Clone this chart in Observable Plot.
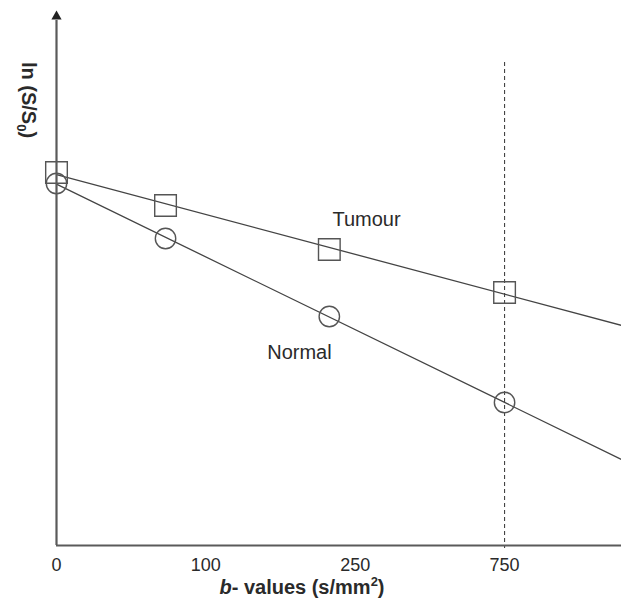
<!DOCTYPE html>
<html><head><meta charset="utf-8">
<script src="https://cdn.jsdelivr.net/npm/d3@7"></script>
<script src="https://cdn.jsdelivr.net/npm/@observablehq/plot@0.6"></script>
<style>body{margin:0;background:#fff} svg{display:block}</style>
</head><body><div id="chart"></div>
<script>
// b-values of the measured points (s/mm²), schematic axis
const bValues = [0, 73, 224, 750];
// ln(S/S0), arbitrary units
const tumour = [0, -0.33, -0.77, -1.20];
const normal = [-0.11, -0.66, -1.44, -2.30];
// axis tick labels (equally spaced on the drawn axis)
const tickValues = [0, 100, 250, 750];
const tickLabels = ["0", "100", "250", "750"];
// series label anchors
const seriesNames = ["Tumour", "Normal"];
const labelB = [288, 194];
const labelY = [-0.47, -1.80];
// reference line
const refB = [750];

const W = 621, H = 608, mL = 56, mR = 0, mT = 10, mB = 63;
const pos = d3.scaleLinear().domain(tickValues).range(tickValues.map((d, i) => i)); // piecewise axis
const xMax = 3.783;
const yDom = [-3.73, 1.62];
const ink = "#444";

function fitLine(ys) {
  const xs = bValues.map(pos);
  const mx = d3.mean(xs), my = d3.mean(ys);
  const sxy = d3.sum(xs, (x, i) => (x - mx) * (ys[i] - my));
  const sxx = d3.sum(xs, x => (x - mx) ** 2);
  const k = sxy / sxx, c = my - k * mx;
  return [0, xMax].map(x => ({x, y: c + k * x}));
}
const pts = (ys) => bValues.map((b, i) => ({x: pos(b), y: ys[i]}));
const labels = seriesNames.map((n, i) => ({name: n, x: pos(labelB[i]), y: labelY[i]}));

const chart = Plot.plot({
  width: W, height: H, marginLeft: mL, marginRight: mR, marginTop: mT, marginBottom: mB,
  style: {fontFamily: "'Liberation Sans', Arial, sans-serif", fontSize: "18px", color: "#2a2a2a", background: "#fff"},
  x: {domain: [0, xMax], axis: null},
  y: {domain: yDom, axis: null},
  marks: [
    Plot.ruleX(refB.map(pos), {y1: 1.10, y2: yDom[0] - 0.03, stroke: ink, strokeWidth: 1.1, strokeDasharray: "4,3"}),
    Plot.line(fitLine(tumour), {x: "x", y: "y", stroke: ink, strokeWidth: 1.3}),
    Plot.line(fitLine(normal), {x: "x", y: "y", stroke: ink, strokeWidth: 1.3}),
    Plot.dot(pts(tumour), {x: "x", y: "y", symbol: "square", r: 12.2, stroke: "#555", strokeWidth: 1.4, fill: "none"}),
    Plot.dot(pts(normal), {x: "x", y: "y", symbol: "circle", r: 10.2, stroke: "#555", strokeWidth: 1.4, fill: "none"}),
    Plot.text(labels, {x: "x", y: "y", text: "name", fontSize: 20, fill: "#2a2a2a"}),
    Plot.ruleY([yDom[0]], {stroke: "#5a5a5a", strokeWidth: 2.2}),
    Plot.ruleX([0], {y1: yDom[0], y2: 1.52, stroke: "#5a5a5a", strokeWidth: 2.2}),
    Plot.dot([0], {x: 0, y: 1.56, symbol: "triangle", r: 3.8, fill: "#222", stroke: "none"}),
    Plot.axisX({ticks: tickValues.map(pos), tickFormat: (d, i) => tickLabels[i], tickSize: 0, tickPadding: 12.5, fontSize: 18, fill: "#2a2a2a", label: null})
  ]
});

const svg = d3.select(chart);
const font = "'Liberation Sans', Arial, sans-serif";
// x-axis title
const xt = svg.append("text")
  .attr("x", 302).attr("y", 594).attr("text-anchor", "middle")
  .attr("font-family", font).attr("font-size", 20).attr("font-weight", "bold").attr("fill", "#2a2a2a");
xt.append("tspan").attr("font-style", "italic").text("b");
xt.append("tspan").text("- values (s/mm");
xt.append("tspan").attr("font-size", 13).attr("dy", -8).text("2");
xt.append("tspan").attr("dy", 8).text(")");
// y-axis title
const yt = svg.append("text")
  .attr("transform", "translate(21.5,100) rotate(90)").attr("text-anchor", "middle")
  .attr("font-family", font).attr("font-size", 20).attr("font-weight", "bold").attr("fill", "#2a2a2a");
yt.append("tspan").text("ln (S/S");
yt.append("tspan").attr("font-size", 13).attr("dy", 5).text("0");
yt.append("tspan").attr("dy", -5).text(")");

document.getElementById("chart").append(chart);
</script>
</body></html>
